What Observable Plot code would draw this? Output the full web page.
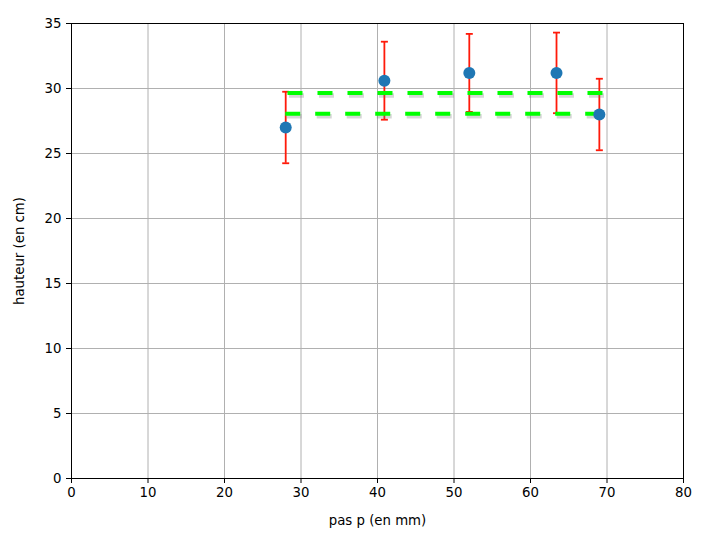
<!DOCTYPE html>
<html>
<head>
<meta charset="utf-8">
<script src="https://cdn.jsdelivr.net/npm/d3@7"></script>
<script src="https://cdn.jsdelivr.net/npm/@observablehq/plot@0.6"></script>
<style>
  html, body { margin: 0; padding: 0; background: #fff; }
  svg { display: block; }
</style>
</head>
<body>
<div id="chart"></div>
<script>
// Data
const pas = [28, 40.9, 52, 63.4, 69];          // pas p (en mm)
const hauteur = [27.0, 30.6, 31.2, 31.2, 28.0]; // hauteur (en cm)
const erreur = [2.75, 3.0, 3.0, 3.1, 2.75];     // demi-largeur des barres d'erreur
const lignesY = [29.65, 28.05];                 // lignes vertes pointillées
const lignesX1 = [28.3, 28.0];
const lignesX2 = [69.7, 69.1];
const xTicks = [0, 10, 20, 30, 40, 50, 60, 70, 80];
const yTicks = [0, 5, 10, 15, 20, 25, 30, 35];

const points = pas.map((x, i) => ({x, y: hauteur[i], lo: hauteur[i] - erreur[i], hi: hauteur[i] + erreur[i]}));
const lignes = lignesY.map((y, i) => ({y, x1: lignesX1[i], x2: lignesX2[i]}));

const cap = {draw(ctx) { ctx.moveTo(-3.5, 0); ctx.lineTo(3.5, 0); }};

const chart = Plot.plot({
  width: 708,
  height: 546,
  marginLeft: 71,
  marginRight: 25,
  marginTop: 23,
  marginBottom: 68,
  style: {fontFamily: "DejaVu Sans", fontSize: "13.3px", color: "#000", background: "#fff"},
  x: {domain: [0, 80]},
  y: {domain: [0, 35]},
  marks: [
    Plot.gridX(xTicks, {stroke: "#b0b0b0", strokeOpacity: 1, strokeWidth: 1}),
    Plot.gridY(yTicks, {stroke: "#b0b0b0", strokeOpacity: 1, strokeWidth: 1}),
    Plot.axisX(xTicks, {tickSize: 5, tickPadding: 4, label: "pas p (en mm)", labelAnchor: "center", labelArrow: "none", labelOffset: 46, fontSize: 13.3}),
    Plot.axisY(yTicks, {tickSize: 5, tickPadding: 5, label: "hauteur (en cm)", labelAnchor: "center", labelArrow: "none", labelOffset: 57, fontSize: 13.3}),
    // error bars
    Plot.ruleX(points, {x: "x", y1: "lo", y2: "hi", stroke: "#ff1a0a", strokeWidth: 1.8}),
    Plot.dot(points, {x: "x", y: "lo", symbol: cap, r: 3.5, stroke: "#ff1a0a", strokeWidth: 1.8, fill: "none"}),
    Plot.dot(points, {x: "x", y: "hi", symbol: cap, r: 3.5, stroke: "#ff1a0a", strokeWidth: 1.8, fill: "none"}),
    // green dashed lines with shadow
    Plot.ruleY(lignes, {y: "y", x1: "x1", x2: "x2", stroke: "#777", strokeOpacity: 0.3, strokeWidth: 4.5, strokeDasharray: "15,15", dx: 1.5, dy: 2.5}),
    Plot.ruleY(lignes, {y: "y", x1: "x1", x2: "x2", stroke: "#00ff00", strokeWidth: 4, strokeDasharray: "15,15"}),
    // points
    Plot.dot(points, {x: "x", y: "y", r: 6, fill: "#1f77b4", stroke: "none"}),
    Plot.frame({stroke: "#000", strokeWidth: 1})
  ]
});
document.getElementById("chart").append(chart);
</script>
</body>
</html>
